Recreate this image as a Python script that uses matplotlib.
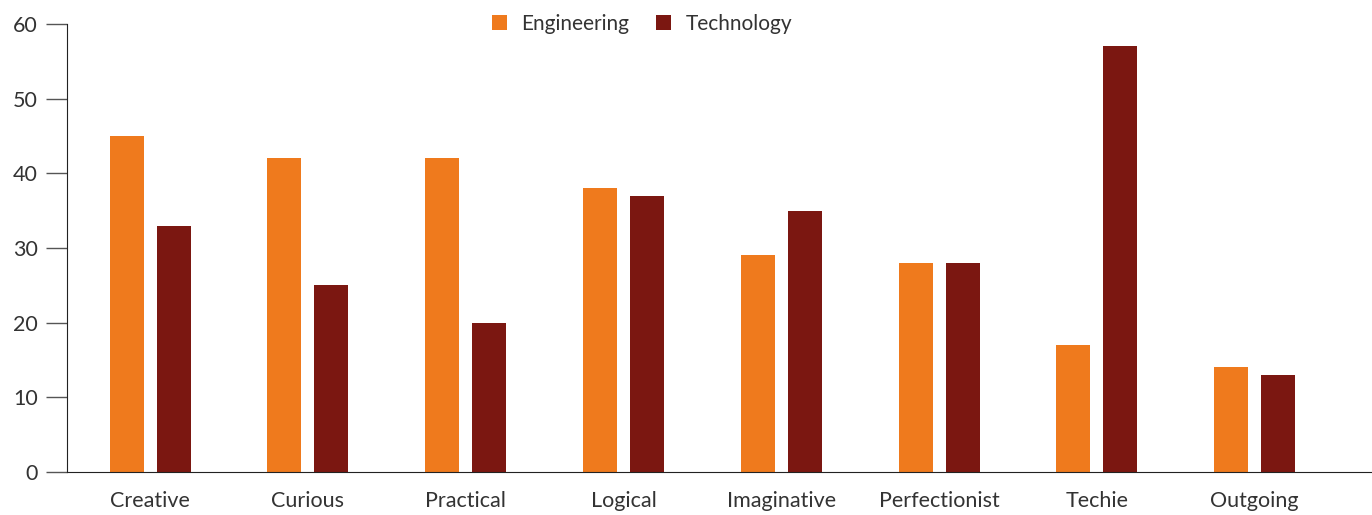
import numpy as np
import matplotlib
matplotlib.use("Agg")
import matplotlib.pyplot as plt

plt.rcParams['font.family'] = ['Lato', 'DejaVu Sans']

categories = ['Creative', 'Curious', 'Practical', 'Logical', 'Imaginative',
              'Perfectionist', 'Techie', 'Outgoing']
engineering = [45, 42, 42, 38, 29, 28, 17, 14]
technology = [33, 25, 20, 37, 35, 28, 57, 13]

orange = '#EF7A1D'
darkred = '#7B1711'
textc = '#333333'

fig = plt.figure(figsize=(13.72, 5.15), dpi=100)
ax = fig.add_axes([0.049, 0.0835, 0.950, 0.870])

x = np.arange(len(categories))
w = 0.216
off = 0.149
ax.bar(x - off + 0.005, engineering, w, color=orange, label='Engineering')
ax.bar(x + off + 0.005, technology, w, color=darkred, label='Technology')

ax.set_xlim(-0.52, 7.74)
ax.set_ylim(0, 60)
ax.set_yticks(range(0, 61, 10))
ax.set_xticks(x + 0.005)
ax.set_xticklabels(categories)

for s in ['top', 'right']:
    ax.spines[s].set_visible(False)
ax.spines['left'].set_color('#222222')
ax.spines['bottom'].set_color('#222222')
ax.tick_params(axis='y', length=15, width=1.0, color='#555555', labelsize=15.5,
               labelcolor=textc, pad=6)
ax.tick_params(axis='x', length=0, labelsize=15.5, labelcolor=textc, pad=14)

fig.legend(loc='center', bbox_to_anchor=(642 / 1372, 1 - 24 / 515), ncol=2,
           frameon=False, fontsize=15, handlelength=0.7, handleheight=0.7,
           handletextpad=0.7, columnspacing=1.3, labelcolor=textc)

fig.savefig('out.png', dpi=100)
